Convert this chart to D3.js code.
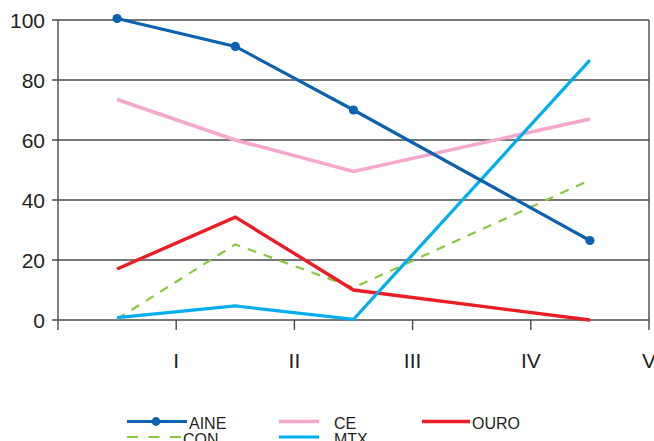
<!DOCTYPE html>
<html>
<head>
<meta charset="utf-8">
<script src="https://cdn.jsdelivr.net/npm/d3@7"></script>
<style>
  html, body { margin: 0; padding: 0; background: #fff; }
  svg { display: block; font-family: "Liberation Sans", Arial, sans-serif; }
</style>
</head>
<body>
<svg id="chart" width="654" height="441"></svg>
<script>
// Periods along the x axis (IV has no recorded values)
const categories = ["P1", "P2", "P3", "P4", "P5"];
const tickLabels = ["I", "II", "III", "IV", "V"];
const yTicks = [0, 20, 40, 60, 80, 100];

const aine = [100.5, 91.2, 70, null, 26.5];
const ce   = [73.5, 60, 49.5, null, 67];
const ouro = [17, 34.3, 10, null, 0];
const con  = [0.3, 25.2, 10.8, null, 46.6];
const mtx  = [0.8, 4.7, 0.2, null, 86.6];

const series = [
  { name: "CE",   values: ce,   color: "#f5a8cc", width: 3.6 },
  { name: "CON",  values: con,  color: "#8cc63f", width: 2.2, dash: "9,8" },
  { name: "OURO", values: ouro, color: "#ec1c24", width: 3.4 },
  { name: "MTX",  values: mtx,  color: "#00aeef", width: 3.2 },
  { name: "AINE", values: aine, color: "#0a62b0", width: 3.2, marker: true }
];

const svg = d3.select("#chart");
const plotLeft = 58, plotRight = 649, plotTop = 20, plotBottom = 320;

const x = d3.scaleBand().domain(categories).range([plotLeft, plotRight]);
const y = d3.scaleLinear().domain([0, 100]).range([plotBottom, plotTop]);
const cx = c => x(c) + x.bandwidth() / 2;

// Horizontal gridlines
svg.append("g").selectAll("line").data(yTicks).join("line")
  .attr("x1", plotLeft - 6).attr("x2", plotRight)
  .attr("y1", d => y(d)).attr("y2", d => y(d))
  .attr("stroke", "#4a4a4a").attr("stroke-width", 1.4);

// Vertical axis
svg.append("line").attr("x1", plotLeft).attr("x2", plotLeft)
  .attr("y1", y(100)).attr("y2", plotBottom + 10)
  .attr("stroke", "#4a4a4a").attr("stroke-width", 1.4);

// Category boundary ticks (the last one doubles as the right frame)
svg.append("g").selectAll("line").data(categories).join("line")
  .attr("x1", d => x(d) + x.bandwidth()).attr("x2", d => x(d) + x.bandwidth())
  .attr("y1", d => d === categories[categories.length - 1] ? y(100) : plotBottom)
  .attr("y2", plotBottom + 10)
  .attr("stroke", "#4a4a4a").attr("stroke-width", 1.4);

// Y labels
svg.append("g").selectAll("text").data(yTicks).join("text")
  .attr("x", 45).attr("y", d => y(d)).attr("dy", "0.36em")
  .attr("text-anchor", "end").attr("font-size", 21).attr("fill", "#231f20")
  .text(d => d);

// X labels at period boundaries
svg.append("g").selectAll("text").data(categories).join("text")
  .attr("x", d => x(d) + x.bandwidth()).attr("y", 368)
  .attr("text-anchor", "middle").attr("font-size", 21).attr("fill", "#231f20")
  .text((d, i) => tickLabels[i]);

// Series lines (gaps are bridged)
const line = d3.line().x(d => cx(d.c)).y(d => y(d.v));
series.forEach(s => {
  const pts = categories.map((c, i) => ({ c, v: s.values[i] })).filter(d => d.v != null);
  svg.append("path").datum(pts)
    .attr("d", line).attr("fill", "none")
    .attr("stroke", s.color).attr("stroke-width", s.width)
    .attr("stroke-dasharray", s.dash || null)
    .attr("stroke-linejoin", "miter");
  if (s.marker) {
    svg.append("g").selectAll("circle").data(pts).join("circle")
      .attr("cx", d => cx(d.c)).attr("cy", d => y(d.v)).attr("r", 4.6)
      .attr("fill", s.color);
  }
});

// Legend
const legendItems = [
  { s: "AINE", lx: 127, ly: 421.5, w: 60 },
  { s: "CE",   lx: 279, ly: 421.5, w: 40 },
  { s: "OURO", lx: 422, ly: 421.5, w: 48 },
  { s: "CON",  lx: 127, ly: 437,   w: 54 },
  { s: "MTX",  lx: 279, ly: 437,   w: 40 }
];
const lg = svg.append("g");
legendItems.forEach(item => {
  const s = series.find(d => d.name === item.s);
  lg.append("line")
    .attr("x1", item.lx).attr("x2", item.lx + item.w)
    .attr("y1", item.ly).attr("y2", item.ly)
    .attr("stroke", s.color).attr("stroke-width", s.width)
    .attr("stroke-dasharray", s.dash ? "11,10.5" : null);
  if (s.marker) {
    lg.append("circle").attr("cx", item.lx + item.w / 2 - 1).attr("cy", item.ly)
      .attr("r", 4.4).attr("fill", s.color);
  }
  lg.append("text")
    .attr("x", item.lx + item.w + 2 + (item.s === "CE" || item.s === "MTX" ? 13 : 0))
    .attr("y", item.ly + 7.5)
    .attr("font-size", 16).attr("fill", "#231f20")
    .text(item.s);
});
</script>
</body>
</html>
